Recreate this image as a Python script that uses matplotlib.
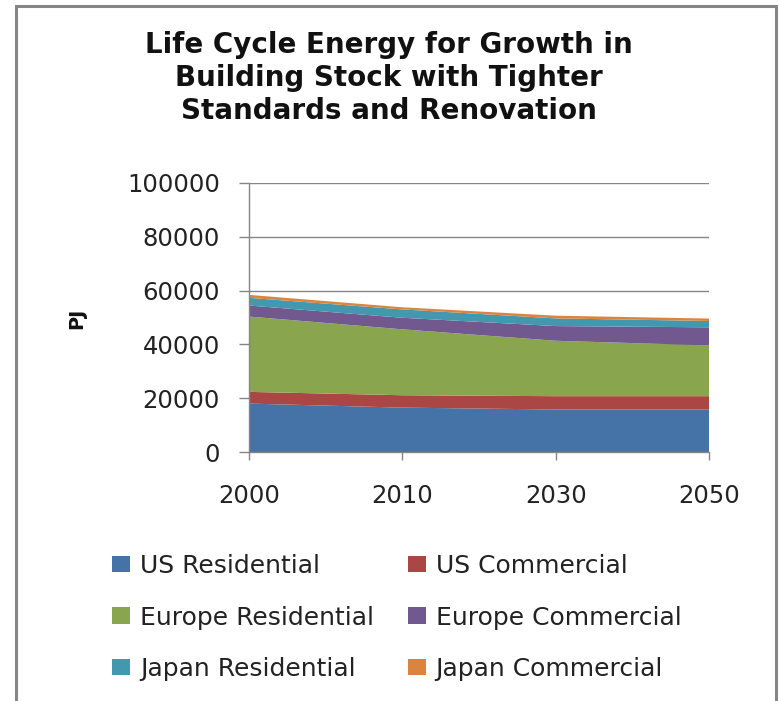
import matplotlib
matplotlib.use("Agg")
import matplotlib.pyplot as plt
from matplotlib.patches import Patch, Rectangle

years = ["2000", "2010", "2030", "2050"]
us_res = [18000, 16500, 15800, 15800]
us_com = [4350, 4600, 4950, 4950]
eu_res = [28000, 24500, 20600, 18900]
eu_com = [4100, 4300, 5460, 6700]
jp_res = [2860, 3100, 2860, 2360]
jp_com = [1100, 800, 1000, 900]

labels = ["US Residential", "US Commercial", "Europe Residential",
          "Europe Commercial", "Japan Residential", "Japan Commercial"]
colors = ["#4572A7", "#AA4643", "#89A54E", "#71588F", "#4198AF", "#DB843D"]
yticks = [0, 20000, 40000, 60000, 80000, 100000]

plt.rcParams['font.family'] = ['DejaVu Sans']

W, H = 779, 701
fig = plt.figure(figsize=(W / 100, H / 100), dpi=100)
fig.patch.set_facecolor("white")

# outer frame
fig.patches.append(Rectangle((16 / W, -0.05), (776 - 16) / W, (701 - 6) / H + 0.05,
                             transform=fig.transFigure, fill=False,
                             edgecolor="#868686", linewidth=2.2, clip_on=False))

ax = fig.add_axes([249 / W, 1 - 452 / H, 460 / W, (452 - 183) / H])
x = list(range(len(years)))
series = [us_res, us_com, eu_res, eu_com, jp_res, jp_com]
ax.stackplot(x, *series, colors=colors, labels=labels, linewidth=0)

ax.set_xlim(0, len(years) - 1)
ax.set_ylim(0, 100000)
ax.set_yticks(yticks)
ax.set_yticklabels([str(v) for v in yticks])
ax.set_xticks(x)
ax.set_xticklabels(years)
ax.yaxis.grid(True, color="#868686", linewidth=1)
ax.set_axisbelow(True)
for s in ["top", "right"]:
    ax.spines[s].set_visible(False)
for s in ["left", "bottom"]:
    ax.spines[s].set_color("#868686")
    ax.spines[s].set_linewidth(1)
ax.tick_params(axis="y", length=7, width=1, color="#868686", pad=14,
               labelsize=17.5, labelcolor="#222222")
ax.tick_params(axis="x", length=6, width=1, color="#868686", pad=17,
               labelsize=17.5, labelcolor="#222222")

fig.text(77 / W, 1 - 318 / H, "PJ", rotation=90, ha="center", va="center",
         fontsize=14, fontweight="bold", color="#111111")

fig.text(389 / W, 1 - 78 / H,
         "Life Cycle Energy for Growth in\nBuilding Stock with Tighter\nStandards and Renovation",
         ha="center", va="center", fontsize=20, fontweight="bold",
         linespacing=1.22, color="#111111")

order = [0, 2, 4, 1, 3, 5]
handles = [Patch(facecolor=colors[i], edgecolor="none") for i in order]
leg_labels = [labels[i] for i in order]
fig.legend(handles, leg_labels, loc="upper left",
           bbox_to_anchor=(112 / W, 1 - 554 / H), ncol=2, frameon=False,
           fontsize=18, handlelength=0.72, handleheight=0.64, handletextpad=0.4,
           columnspacing=1.35, labelspacing=1.1, borderpad=0, borderaxespad=0,
           labelcolor="#222222")

fig.savefig("out.png", dpi=100, facecolor="white")
